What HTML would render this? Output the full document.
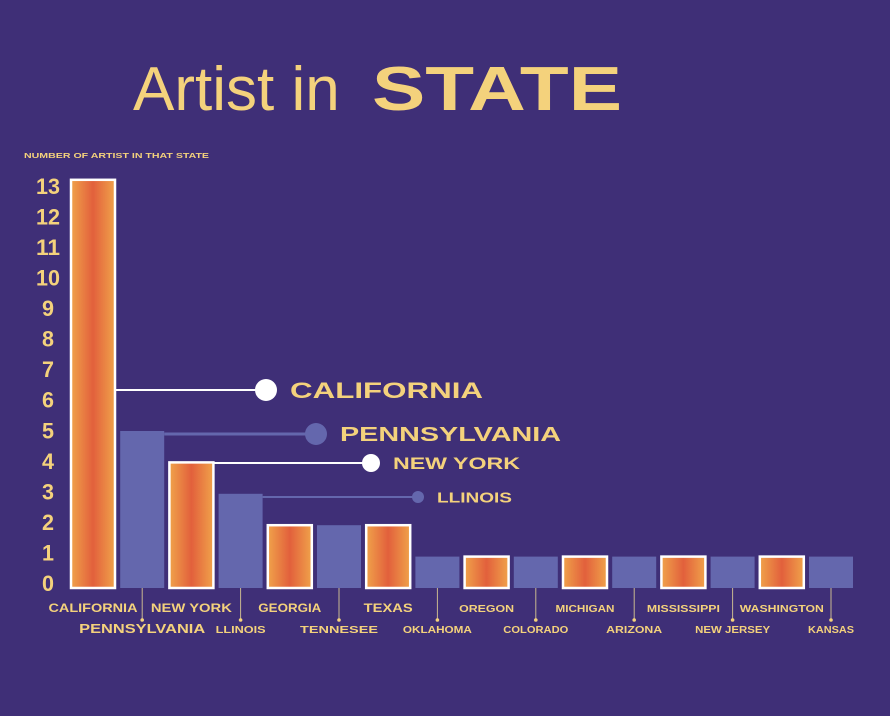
<!DOCTYPE html>
<html><head><meta charset="utf-8"><style>
html,body{margin:0;padding:0;background:#3f2f77;}
svg{display:block;}
text{font-family:"Liberation Sans",sans-serif;fill:#f4d27c;}
</style></head><body>
<svg id="chart" width="890" height="716" viewBox="0 0 890 716">
<defs>
<linearGradient id="og" x1="0" x2="1" y1="0" y2="0">
<stop offset="0" stop-color="#f0a24a"/><stop offset="0.5" stop-color="#e2603c"/><stop offset="1" stop-color="#f0a24a"/>
</linearGradient>
</defs>
<rect width="890" height="716" fill="#3f2f77"/>
<text x="133" y="110" font-size="62">Artist in</text>
<text x="372" y="110" font-size="62" font-weight="bold" textLength="250" lengthAdjust="spacingAndGlyphs">STATE</text>
<text x="24" y="158" font-size="7.5" font-weight="bold" textLength="185" lengthAdjust="spacingAndGlyphs">NUMBER OF ARTIST IN THAT STATE</text>
<g id="ticks"></g><g id="bars"></g><g id="labels"></g><g id="callouts"></g>
</svg>
<script>
const categories=["CALIFORNIA","PENNSYLVANIA","NEW YORK","LLINOIS","GEORGIA","TENNESEE","TEXAS","OKLAHOMA","OREGON","COLORADO","MICHIGAN","ARIZONA","MISSISSIPPI","NEW JERSEY","WASHINGTON","KANSAS"];
const values=[13,5,4,3,2,2,2,1,1,1,1,1,1,1,1,1];
const tickValues=[0,1,2,3,4,5,6,7,8,9,10,11,12,13];
const callouts=["CALIFORNIA","PENNSYLVANIA","NEW YORK","LLINOIS"];
const NS="http://www.w3.org/2000/svg";
function mk(t,a,p){const e=document.createElementNS(NS,t);for(const k in a)e.setAttribute(k,a[k]);p.appendChild(e);return e;}
const base=588,unit=31.4,x0=71,pitch=49.2,bw=44;
function y(v){return base-v*unit;}
function tickY(v){return 583-v*30.55;}
function xL(i){return x0+i*pitch;}
const labelW=[89,126,81,50,63,78,49,69,55,65,59,56,73,75,84,46];
const tg=document.getElementById('ticks');
tickValues.forEach(v=>{const t=mk('text',{x:48,y:tickY(v)+8,'font-size':22,'font-weight':'bold','text-anchor':'middle',textLength:v>=10?24:12,lengthAdjust:'spacingAndGlyphs'},tg);


t.textContent=v;});
const bg=document.getElementById('bars'),lg=document.getElementById('labels');
categories.forEach((c,i)=>{const orange=i%2===0;const x=xL(i);
const r=mk('rect',{x:x,y:y(values[i]),width:bw,height:base-y(values[i]),fill:orange?'url(#og)':'#6467ad',stroke:orange?'#fff':'none','stroke-width':orange?2.5:0},bg);


const cx=x+bw/2;let t;
const common={'font-weight':'bold','text-anchor':'middle',textLength:labelW[i],lengthAdjust:'spacingAndGlyphs'};
if(orange){t=mk('text',Object.assign({x:cx,y:612,'font-size':i<7?12:10},common),lg);}
else{mk('line',{x1:cx,y1:base,x2:cx,y2:620,stroke:'#c9b890','stroke-width':1},lg);mk('circle',{cx:cx,cy:620,r:1.8,fill:'#f4d27c'},lg);
t=mk('text',Object.assign({x:cx,y:633,'font-size':i===1?13:10},common),lg);}


t.textContent=c;});
const cg=document.getElementById('callouts');
const cfg=[{ly:390,cx:266,r:11,col:'#fff',fs:22,w:193},{ly:434,cx:316,r:11,col:'#6467ad',fs:20,w:221},{ly:463,cx:371,r:9,col:'#fff',fs:17,w:127},{ly:497,cx:418,r:6,col:'#6467ad',fs:15,w:75}];
callouts.forEach((c,i)=>{const k=cfg[i];const x=xL(i)+bw;
mk('line',{x1:x,y1:k.ly,x2:k.cx,y2:k.ly,stroke:k.col,'stroke-width':i===1?3:2},cg);
const ci=mk('circle',{cx:k.cx,cy:k.ly,r:k.r,fill:k.col},cg);


const t=mk('text',{x:k.cx+k.r+13,y:k.ly+k.fs*0.36,'font-size':k.fs,'font-weight':'bold',textLength:k.w,lengthAdjust:'spacingAndGlyphs'},cg);


t.textContent=c;});
</script>
</body></html>
